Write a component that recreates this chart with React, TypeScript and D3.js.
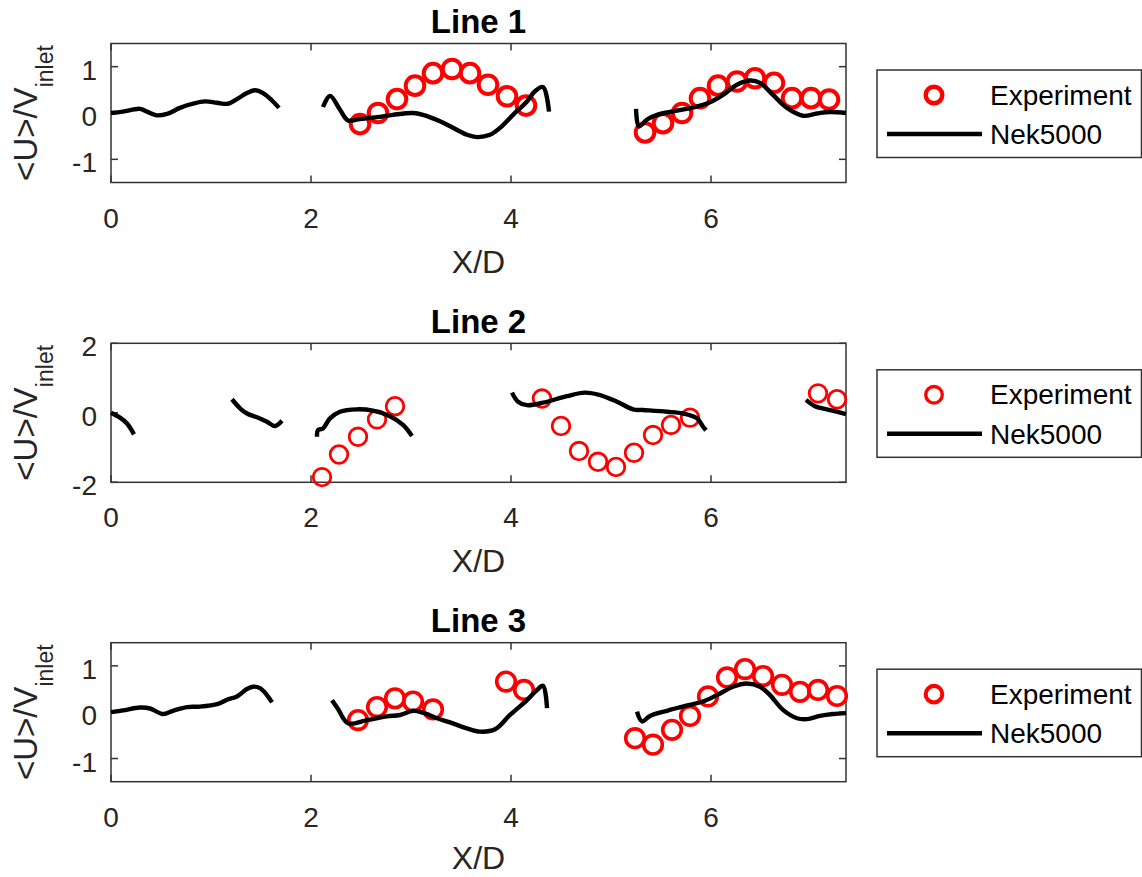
import React from 'react';
import * as d3 from 'd3';

// Shared x axis (X/D)
const xDomain: [number, number] = [0, 7.35];
const xTicks = [0, 2, 4, 6];

// ---- Line 1 ----
const line1YDomain: [number, number] = [-1.5, 1.5];
const line1YTicks = [-1, 0, 1];
const line1ExpX = [2.49, 2.67, 2.86, 3.04, 3.22, 3.41, 3.59, 3.77, 3.96, 4.15, 5.34, 5.52, 5.71, 5.89, 6.07, 6.26, 6.44, 6.63, 6.81, 7.0, 7.18];
const line1ExpY = [-0.24, 0.0, 0.3, 0.59, 0.86, 0.95, 0.86, 0.61, 0.36, 0.16, -0.42, -0.22, 0.0, 0.32, 0.59, 0.68, 0.75, 0.65, 0.32, 0.32, 0.29];
const line1NekA: [number, number][] = [
  [0, 0.0], [0.12, 0.03], [0.29, 0.09], [0.36, 0.03], [0.46, -0.05], [0.56, -0.02], [0.69, 0.11],
  [0.82, 0.2], [0.94, 0.25], [1.06, 0.22], [1.17, 0.2], [1.26, 0.3], [1.36, 0.43], [1.44, 0.49],
  [1.52, 0.43], [1.61, 0.27], [1.68, 0.11],
];
const line1NekB: [number, number][] = [
  [2.12, 0.13], [2.19, 0.37], [2.29, 0.07], [2.37, -0.16], [2.49, -0.13], [2.66, -0.09], [2.82, -0.04],
  [3.02, 0.0], [3.12, -0.04], [3.29, -0.18], [3.42, -0.32], [3.56, -0.47], [3.66, -0.52], [3.79, -0.47],
  [3.89, -0.32], [4.02, -0.04], [4.16, 0.25], [4.24, 0.47], [4.32, 0.56], [4.38, 0.03],
];
const line1NekC: [number, number][] = [
  [5.25, 0.09], [5.28, -0.29], [5.36, -0.14], [5.46, -0.04], [5.66, 0.05], [5.86, 0.14], [5.99, 0.23],
  [6.12, 0.39], [6.26, 0.61], [6.39, 0.7], [6.49, 0.65], [6.62, 0.39], [6.76, 0.11], [6.92, -0.06],
  [7.06, -0.01], [7.19, 0.02], [7.35, 0.0],
];

// ---- Line 2 ----
const line2YDomain: [number, number] = [-2, 2];
const line2YTicks = [-2, 0, 2];
const line2ExpX = [2.11, 2.28, 2.47, 2.66, 2.84, 4.31, 4.5, 4.68, 4.87, 5.05, 5.23, 5.42, 5.6, 5.79, 7.07, 7.26];
const line2ExpY = [-1.85, -1.2, -0.69, -0.19, 0.19, 0.41, -0.38, -1.1, -1.41, -1.56, -1.15, -0.64, -0.35, -0.14, 0.56, 0.39];
const line2NekA: [number, number][] = [[0, 0.0], [0.09, -0.14], [0.16, -0.31], [0.23, -0.62]];
const line2NekB: [number, number][] = [
  [1.21, 0.39], [1.29, 0.13], [1.36, -0.02], [1.46, -0.13], [1.56, -0.26], [1.64, -0.38], [1.71, -0.23],
];
const line2NekC: [number, number][] = [
  [2.06, -0.69], [2.07, -0.5], [2.12, -0.45], [2.19, -0.16], [2.29, 0.03], [2.46, 0.1], [2.62, 0.06],
  [2.79, -0.1], [2.92, -0.35], [3.01, -0.67],
];
const line2NekD: [number, number][] = [
  [4.01, 0.58], [4.07, 0.32], [4.16, 0.22], [4.32, 0.29], [4.56, 0.48], [4.74, 0.58], [4.89, 0.51],
  [5.06, 0.32], [5.22, 0.1], [5.32, 0.08], [5.56, 0.03], [5.72, -0.02], [5.86, -0.16], [5.92, -0.4],
  [5.95, -0.5],
];
const line2NekE: [number, number][] = [[6.95, 0.37], [7.04, 0.19], [7.19, 0.08], [7.35, -0.04]];

// ---- Line 3 ----
const line3YDomain: [number, number] = [-1.5, 1.5];
const line3YTicks = [-1, 0, 1];
const line3ExpX = [2.47, 2.66, 2.84, 3.02, 3.22, 3.95, 4.13, 5.24, 5.42, 5.61, 5.79, 5.97, 6.16, 6.34, 6.52, 6.71, 6.89, 7.07, 7.26];
const line3ExpY = [-0.17, 0.11, 0.3, 0.23, 0.06, 0.66, 0.48, -0.56, -0.7, -0.38, -0.08, 0.34, 0.75, 0.93, 0.78, 0.59, 0.44, 0.48, 0.35];
const line3NekA: [number, number][] = [
  [0, 0.0], [0.12, 0.04], [0.29, 0.1], [0.39, 0.08], [0.52, -0.04], [0.62, 0.03], [0.76, 0.11],
  [0.89, 0.12], [1.07, 0.18], [1.16, 0.27], [1.26, 0.34], [1.36, 0.5], [1.42, 0.55], [1.49, 0.52],
  [1.56, 0.37], [1.61, 0.21],
];
const line3NekB: [number, number][] = [
  [2.21, 0.26], [2.27, 0.07], [2.37, -0.24], [2.56, -0.17], [2.76, -0.09], [2.89, -0.06], [3.02, 0.03],
  [3.12, -0.01], [3.26, -0.13], [3.39, -0.22], [3.56, -0.35], [3.69, -0.42], [3.84, -0.37], [3.99, -0.06],
  [4.16, 0.26], [4.26, 0.48], [4.32, 0.57], [4.36, 0.09],
];
const line3NekC: [number, number][] = [
  [5.26, 0.01], [5.31, -0.2], [5.39, -0.08], [5.56, 0.03], [5.79, 0.16], [5.92, 0.23], [6.06, 0.37],
  [6.22, 0.55], [6.36, 0.62], [6.49, 0.55], [6.59, 0.37], [6.72, 0.05], [6.86, -0.13], [6.96, -0.15],
  [7.09, -0.08], [7.22, -0.04], [7.35, -0.02],
];

const titles = ['Line 1', 'Line 2', 'Line 3'];
const legendLabels = ['Experiment', 'Nek5000'];

// Layout
const W = 1142;
const H = 877;
const LEFT = 111;
const RIGHT = 846;
const PLOT_H = 139;
const panelTops = [43.5, 343.3, 642.7];
const FONT = "'Liberation Sans', Arial, Helvetica, sans-serif";
const AXIS_COLOR = '#333333';
const TICK_LEN = 7;

type PanelSpec = {
  title: string;
  yDomain: [number, number];
  yTicks: number[];
  expX: number[];
  expY: number[];
  nek: [number, number][][];
  markerStroke: number;
  markerR: number;
};

const panels: PanelSpec[] = [
  { title: titles[0], yDomain: line1YDomain, yTicks: line1YTicks, expX: line1ExpX, expY: line1ExpY, nek: [line1NekA, line1NekB, line1NekC], markerStroke: 4, markerR: 9.3 },
  { title: titles[1], yDomain: line2YDomain, yTicks: line2YTicks, expX: line2ExpX, expY: line2ExpY, nek: [line2NekA, line2NekB, line2NekC, line2NekD, line2NekE], markerStroke: 2.8, markerR: 8.8 },
  { title: titles[2], yDomain: line3YDomain, yTicks: line3YTicks, expX: line3ExpX, expY: line3ExpY, nek: [line3NekA, line3NekB, line3NekC], markerStroke: 3.6, markerR: 9.3 },
];

function Panel({ spec, top, last }: { spec: PanelSpec; top: number; last: boolean }) {
  const bottom = top + PLOT_H;
  const x = d3.scaleLinear().domain(xDomain).range([LEFT, RIGHT]);
  const y = d3.scaleLinear().domain(spec.yDomain).range([bottom, top]);
  const line = d3
    .line<[number, number]>()
    .x((d) => x(d[0]))
    .y((d) => y(d[1]))
    .curve(d3.curveCatmullRom.alpha(0.5));
  const cx = (LEFT + RIGHT) / 2;
  const cy = (top + bottom) / 2;
  const legTop = top + 26.5;

  return (
    <g>
      {/* title */}
      <text x={cx} y={top - 10.5} textAnchor="middle" fontFamily={FONT} fontWeight="bold" fontSize={33} fill="#000">
        {spec.title}
      </text>

      {/* axes box */}
      <rect x={LEFT} y={top} width={RIGHT - LEFT} height={PLOT_H} fill="#fff" stroke={AXIS_COLOR} strokeWidth={1.5} />

      {/* x ticks (inward, bottom and top) */}
      {xTicks.map((t) => (
        <g key={'x' + t}>
          <line x1={x(t)} x2={x(t)} y1={bottom} y2={bottom - TICK_LEN} stroke={AXIS_COLOR} strokeWidth={1.5} />
          <line x1={x(t)} x2={x(t)} y1={top} y2={top + TICK_LEN} stroke={AXIS_COLOR} strokeWidth={1.5} />
          <text x={x(t)} y={bottom + 45} textAnchor="middle" fontFamily={FONT} fontSize={28} fill="#262626">
            {t}
          </text>
        </g>
      ))}

      {/* y ticks (inward, left and right) */}
      {spec.yTicks.map((t) => (
        <g key={'y' + t}>
          <line x1={LEFT} x2={LEFT + TICK_LEN} y1={y(t)} y2={y(t)} stroke={AXIS_COLOR} strokeWidth={1.5} />
          <line x1={RIGHT} x2={RIGHT - TICK_LEN} y1={y(t)} y2={y(t)} stroke={AXIS_COLOR} strokeWidth={1.5} />
          <text x={97} y={y(t) + 13} textAnchor="end" fontFamily={FONT} fontSize={28} fill="#262626">
            {t}
          </text>
        </g>
      ))}

      {/* axis labels */}
      <text x={cx} y={bottom + (last ? 87 : 90)} textAnchor="middle" fontFamily={FONT} fontSize={32} fill="#262626">
        X/D
      </text>
      <text transform={`translate(37,${cy}) rotate(-90)`} textAnchor="middle" fontFamily={FONT} fontSize={33} fill="#262626">
        {'<U>/V'}
        <tspan fontSize={23} dy={16}>inlet</tspan>
      </text>

      {/* experiment markers */}
      {spec.expX.map((xv, i) => (
        <circle key={'e' + i} cx={x(xv)} cy={y(spec.expY[i])} r={spec.markerR} fill="none" stroke="#ff0000" strokeWidth={spec.markerStroke} />
      ))}

      {/* Nek5000 segments */}
      {spec.nek.map((seg, i) => (
        <path key={'n' + i} d={line(seg) || ''} fill="none" stroke="#000" strokeWidth={4.4} strokeLinejoin="round" strokeLinecap="butt" />
      ))}

      {/* legend */}
      <rect x={877} y={legTop} width={264.5} height={87.5} fill="#fff" stroke={AXIS_COLOR} strokeWidth={1.5} />
      <circle cx={934} cy={legTop + 25} r={8.3} fill="none" stroke="#ff0000" strokeWidth={spec.markerStroke + 0.5} />
      <text x={990} y={legTop + 34.5} fontFamily={FONT} fontSize={28} fill="#000">
        {legendLabels[0]}
      </text>
      <line x1={887} x2={982} y1={legTop + 64} y2={legTop + 64} stroke="#000" strokeWidth={4.4} />
      <text x={990} y={legTop + 74} fontFamily={FONT} fontSize={28} fill="#000">
        {legendLabels[1]}
      </text>
    </g>
  );
}

export default function App() {
  return (
    <svg width={W} height={H} viewBox={`0 0 ${W} ${H}`} style={{ position: 'absolute', left: 0, top: 0, background: '#fff' }}>
      <rect x={0} y={0} width={W} height={H} fill="#fff" />
      {panels.map((p, i) => (
        <Panel key={i} spec={p} top={panelTops[i]} last={i === panels.length - 1} />
      ))}
    </svg>
  );
}
